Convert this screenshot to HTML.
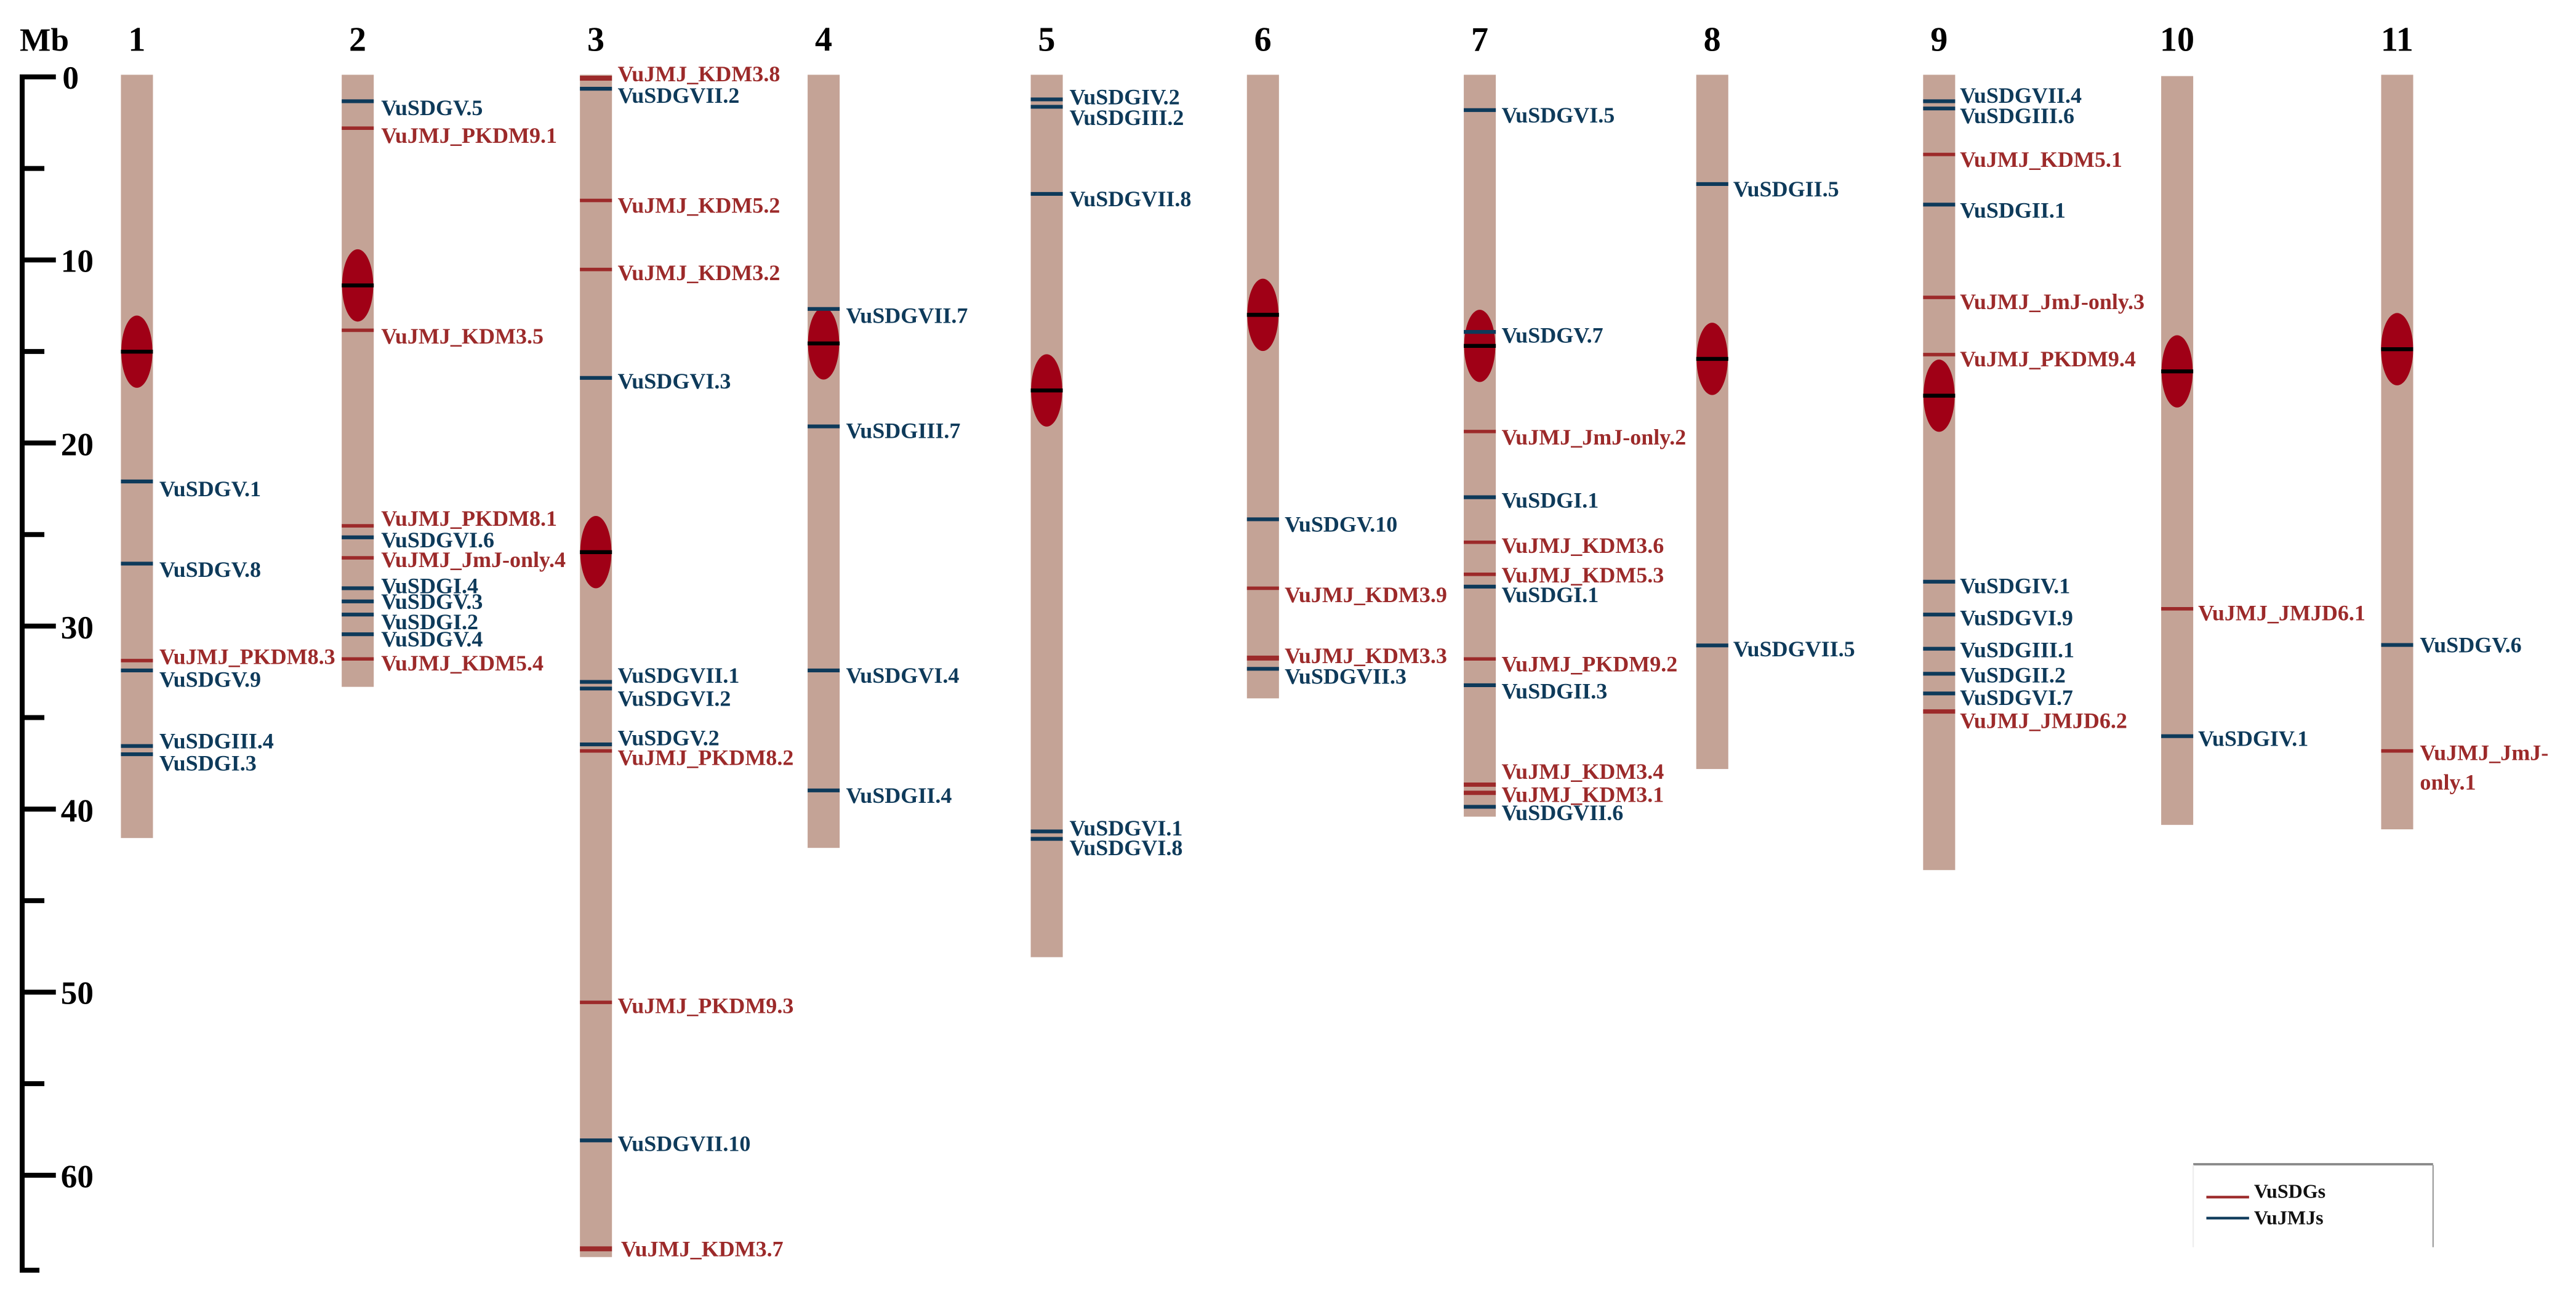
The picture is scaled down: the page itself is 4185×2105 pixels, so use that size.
<!DOCTYPE html>
<html><head><meta charset="utf-8"><style>
html,body{margin:0;padding:0;background:#fff;}
svg{display:block;}
text{font-family:"Liberation Serif",serif;font-weight:bold;}
.b{fill:#0e3a5a;font-size:13.5px;}
.r{fill:#9c2a2a;font-size:13.5px;}
.n{fill:#000;font-size:21px;}
.lb{stroke:#0e3a5a;stroke-width:2.3;}
.lr{stroke:#9c2a2a;stroke-width:2.1;}
.c{fill:#c4a396;}
.e{fill:#a00016;}
.k{stroke:#000;stroke-width:2.4;}
</style></head><body>
<svg width="4185" height="2105" viewBox="0 0 1568 788.7" preserveAspectRatio="none" xmlns="http://www.w3.org/2000/svg">
<!-- axis -->
<g stroke="#000" stroke-width="3" fill="none">
<path d="M34 46.8 H13.5 V773 H24"/>
<path d="M13.5 158.2H34 M13.5 269.6H34 M13.5 381H34 M13.5 492.4H34 M13.5 603.8H34 M13.5 715.2H34"/>
<path d="M13.5 102.5H27 M13.5 213.9H27 M13.5 325.3H27 M13.5 436.7H27 M13.5 548.1H27 M13.5 659.5H27"/>
</g>
<g class="n" style="font-size:20px">
<text x="12" y="31">Mb</text>
<text x="38" y="54">0</text>
<text x="37" y="165.5">10</text>
<text x="37" y="277">20</text>
<text x="37" y="388.5">30</text>
<text x="37" y="500">40</text>
<text x="37" y="611">50</text>
<text x="37" y="722.5">60</text>
</g>
<g class="n" text-anchor="middle">
<text x="83.3" y="31">1</text><text x="217.7" y="31">2</text><text x="362.7" y="31">3</text><text x="501.3" y="31">4</text>
<text x="637.1" y="31">5</text><text x="768.7" y="31">6</text><text x="900.7" y="31">7</text><text x="1042.2" y="31">8</text>
<text x="1180.3" y="31">9</text><text x="1325.2" y="31">10</text><text x="1459.1" y="31">11</text>
</g>
<!-- chromosomes -->
<rect class="c" x="73.6" y="45.5" width="19.5" height="464.5"/>
<rect class="c" x="208" y="45.5" width="19.5" height="372.5"/>
<rect class="c" x="353" y="45.5" width="19.5" height="719.5"/>
<rect class="c" x="491.6" y="45.5" width="19.5" height="470.5"/>
<rect class="c" x="627.4" y="45.5" width="19.5" height="537"/>
<rect class="c" x="759" y="45.5" width="19.5" height="379.5"/>
<rect class="c" x="891" y="45.5" width="19.5" height="451.5"/>
<rect class="c" x="1032.5" y="45.5" width="19.5" height="422.5"/>
<rect class="c" x="1170.6" y="45.5" width="19.5" height="484"/>
<rect class="c" x="1315.5" y="46.3" width="19.5" height="455.7"/>
<rect class="c" x="1449.4" y="45.5" width="19.5" height="459.2"/>
<!-- centromeres -->
<g>
<ellipse class="e" cx="83.3" cy="214" rx="9.5" ry="22"/><line class="k" x1="73.6" x2="93.1" y1="214" y2="214"/>
<ellipse class="e" cx="217.7" cy="173.7" rx="9.5" ry="22"/><line class="k" x1="208" x2="227.5" y1="173.7" y2="173.7"/>
<ellipse class="e" cx="362.7" cy="336" rx="9.5" ry="22"/><line class="k" x1="353" x2="372.5" y1="336" y2="336"/>
<ellipse class="e" cx="501.3" cy="209" rx="9.5" ry="22"/><line class="k" x1="491.6" x2="511.1" y1="209" y2="209"/>
<ellipse class="e" cx="637.1" cy="237.6" rx="9.5" ry="22"/><line class="k" x1="627.4" x2="646.9" y1="237.6" y2="237.6"/>
<ellipse class="e" cx="768.7" cy="191.6" rx="9.5" ry="22"/><line class="k" x1="759" x2="778.5" y1="191.6" y2="191.6"/>
<ellipse class="e" cx="900.7" cy="210.5" rx="9.5" ry="22"/><line class="k" x1="891" x2="910.5" y1="210.5" y2="210.5"/>
<ellipse class="e" cx="1042.2" cy="218.4" rx="9.5" ry="22"/><line class="k" x1="1032.5" x2="1052" y1="218.4" y2="218.4"/>
<ellipse class="e" cx="1180.3" cy="240.8" rx="9.5" ry="22"/><line class="k" x1="1170.6" x2="1190.1" y1="240.8" y2="240.8"/>
<ellipse class="e" cx="1325.2" cy="226" rx="9.5" ry="22"/><line class="k" x1="1315.5" x2="1335" y1="226" y2="226"/>
<ellipse class="e" cx="1459.1" cy="212.5" rx="9.8" ry="22"/><line class="k" x1="1449.4" x2="1468.9" y1="212.5" y2="212.5"/>
</g>
<!-- chr1 -->
<line class="lb" x1="73.6" x2="93.1" y1="293" y2="293"/><text class="b" x="97" y="302">VuSDGV.1</text>
<line class="lb" x1="73.6" x2="93.1" y1="343" y2="343"/><text class="b" x="97" y="351">VuSDGV.8</text>
<line class="lr" x1="73.6" x2="93.1" y1="402" y2="402"/><text class="r" x="97" y="404">VuJMJ_PKDM8.3</text>
<line class="lb" x1="73.6" x2="93.1" y1="408" y2="408"/><text class="b" x="97" y="418">VuSDGV.9</text>
<line class="lb" x1="73.6" x2="93.1" y1="454" y2="454"/><text class="b" x="97" y="455.5">VuSDGIII.4</text>
<line class="lb" x1="73.6" x2="93.1" y1="459" y2="459"/><text class="b" x="97" y="469">VuSDGI.3</text>
<!-- chr2 -->
<line class="lb" x1="208" x2="227.5" y1="61.6" y2="61.6"/><text class="b" x="232" y="70">VuSDGV.5</text>
<line class="lr" x1="208" x2="227.5" y1="78" y2="78"/><text class="r" x="232" y="87">VuJMJ_PKDM9.1</text>
<line class="lr" x1="208" x2="227.5" y1="201" y2="201"/><text class="r" x="232" y="209">VuJMJ_KDM3.5</text>
<line class="lr" x1="208" x2="227.5" y1="320" y2="320"/><text class="r" x="232" y="320">VuJMJ_PKDM8.1</text>
<line class="lb" x1="208" x2="227.5" y1="327" y2="327"/><text class="b" x="232" y="333">VuSDGVI.6</text>
<line class="lr" x1="208" x2="227.5" y1="339.5" y2="339.5"/><text class="r" x="232" y="345">VuJMJ_JmJ-only.4</text>
<line class="lb" x1="208" x2="227.5" y1="358" y2="358"/><text class="b" x="232" y="361">VuSDGI.4</text>
<line class="lb" x1="208" x2="227.5" y1="366" y2="366"/><text class="b" x="232" y="370.5">VuSDGV.3</text>
<line class="lb" x1="208" x2="227.5" y1="374" y2="374"/><text class="b" x="232" y="383">VuSDGI.2</text>
<line class="lb" x1="208" x2="227.5" y1="386" y2="386"/><text class="b" x="232" y="393.5">VuSDGV.4</text>
<line class="lr" x1="208" x2="227.5" y1="401" y2="401"/><text class="r" x="232" y="408">VuJMJ_KDM5.4</text>
<!-- chr3 -->
<line class="lr" x1="353" x2="372.5" y1="47.6" y2="47.6" style="stroke-width:3"/><text class="r" x="376" y="49.5">VuJMJ_KDM3.8</text>
<line class="lb" x1="353" x2="372.5" y1="54" y2="54"/><text class="b" x="376" y="62.5">VuSDGVII.2</text>
<line class="lr" x1="353" x2="372.5" y1="122" y2="122"/><text class="r" x="376" y="129.5">VuJMJ_KDM5.2</text>
<line class="lr" x1="353" x2="372.5" y1="164" y2="164"/><text class="r" x="376" y="170.5">VuJMJ_KDM3.2</text>
<line class="lb" x1="353" x2="372.5" y1="230" y2="230"/><text class="b" x="376" y="236.5">VuSDGVI.3</text>
<line class="lb" x1="353" x2="372.5" y1="415" y2="415"/><text class="b" x="376" y="415.5">VuSDGVII.1</text>
<line class="lb" x1="353" x2="372.5" y1="419" y2="419"/><text class="b" x="376" y="429.5">VuSDGVI.2</text>
<line class="lb" x1="353" x2="372.5" y1="453" y2="453"/><text class="b" x="376" y="453.5">VuSDGV.2</text>
<line class="lr" x1="353" x2="372.5" y1="457" y2="457"/><text class="r" x="376" y="465.5">VuJMJ_PKDM8.2</text>
<line class="lr" x1="353" x2="372.5" y1="610" y2="610"/><text class="r" x="376" y="616.5">VuJMJ_PKDM9.3</text>
<line class="lb" x1="353" x2="372.5" y1="694" y2="694"/><text class="b" x="376" y="700.5">VuSDGVII.10</text>
<line class="lr" x1="353" x2="372.5" y1="760" y2="760" style="stroke-width:3"/><text class="r" x="378" y="764.5">VuJMJ_KDM3.7</text>
<!-- chr4 -->
<line class="lb" x1="491.6" x2="511.1" y1="188" y2="188"/><text class="b" x="515" y="196.5">VuSDGVII.7</text>
<line class="lb" x1="491.6" x2="511.1" y1="259.5" y2="259.5"/><text class="b" x="515" y="266.5">VuSDGIII.7</text>
<line class="lb" x1="491.6" x2="511.1" y1="408" y2="408"/><text class="b" x="515" y="415.5">VuSDGVI.4</text>
<line class="lb" x1="491.6" x2="511.1" y1="481" y2="481"/><text class="b" x="515" y="488.5">VuSDGII.4</text>
<!-- chr5 -->
<line class="lb" x1="627.4" x2="646.9" y1="60.5" y2="60.5"/><text class="b" x="651" y="63.5">VuSDGIV.2</text>
<line class="lb" x1="627.4" x2="646.9" y1="65" y2="65"/><text class="b" x="651" y="76">VuSDGIII.2</text>
<line class="lb" x1="627.4" x2="646.9" y1="118" y2="118"/><text class="b" x="651" y="125.5">VuSDGVII.8</text>
<line class="lb" x1="627.4" x2="646.9" y1="506" y2="506"/><text class="b" x="651" y="508.5">VuSDGVI.1</text>
<line class="lb" x1="627.4" x2="646.9" y1="510.5" y2="510.5"/><text class="b" x="651" y="520.5">VuSDGVI.8</text>
<!-- chr6 -->
<line class="lb" x1="759" x2="778.5" y1="316" y2="316"/><text class="b" x="782" y="323.5">VuSDGV.10</text>
<line class="lr" x1="759" x2="778.5" y1="358" y2="358"/><text class="r" x="782" y="366.5">VuJMJ_KDM3.9</text>
<line class="lr" x1="759" x2="778.5" y1="400.5" y2="400.5" style="stroke-width:3"/><text class="r" x="782" y="403.5">VuJMJ_KDM3.3</text>
<line class="lb" x1="759" x2="778.5" y1="407" y2="407"/><text class="b" x="782" y="416">VuSDGVII.3</text>
<!-- chr7 -->
<line class="lb" x1="891" x2="910.5" y1="67" y2="67"/><text class="b" x="914" y="74.5">VuSDGVI.5</text>
<line class="lb" x1="891" x2="910.5" y1="202" y2="202"/><text class="b" x="914" y="208.5">VuSDGV.7</text>
<line class="lr" x1="891" x2="910.5" y1="262.6" y2="262.6"/><text class="r" x="914" y="270.5">VuJMJ_JmJ-only.2</text>
<line class="lb" x1="891" x2="910.5" y1="302.6" y2="302.6"/><text class="b" x="914" y="309">VuSDGI.1</text>
<line class="lr" x1="891" x2="910.5" y1="330" y2="330"/><text class="r" x="914" y="336.5">VuJMJ_KDM3.6</text>
<line class="lr" x1="891" x2="910.5" y1="349.5" y2="349.5"/><text class="r" x="914" y="354.5">VuJMJ_KDM5.3</text>
<line class="lb" x1="891" x2="910.5" y1="357" y2="357"/><text class="b" x="914" y="366.5">VuSDGI.1</text>
<line class="lr" x1="891" x2="910.5" y1="401" y2="401"/><text class="r" x="914" y="408.5">VuJMJ_PKDM9.2</text>
<line class="lb" x1="891" x2="910.5" y1="417" y2="417"/><text class="b" x="914" y="425">VuSDGII.3</text>
<line class="lr" x1="891" x2="910.5" y1="477.5" y2="477.5" style="stroke-width:2.6"/><text class="r" x="914" y="474">VuJMJ_KDM3.4</text>
<line class="lr" x1="891" x2="910.5" y1="482.5" y2="482.5" style="stroke-width:2.6"/><text class="r" x="914" y="488">VuJMJ_KDM3.1</text>
<line class="lb" x1="891" x2="910.5" y1="491" y2="491"/><text class="b" x="914" y="499">VuSDGVII.6</text>
<!-- chr8 -->
<line class="lb" x1="1032.5" x2="1052" y1="112" y2="112"/><text class="b" x="1055" y="119.5">VuSDGII.5</text>
<line class="lb" x1="1032.5" x2="1052" y1="392.8" y2="392.8"/><text class="b" x="1055" y="399.5">VuSDGVII.5</text>
<!-- chr9 -->
<line class="lb" x1="1170.6" x2="1190.1" y1="61.6" y2="61.6"/><text class="b" x="1193" y="62.5">VuSDGVII.4</text>
<line class="lb" x1="1170.6" x2="1190.1" y1="66" y2="66"/><text class="b" x="1193" y="75">VuSDGIII.6</text>
<line class="lr" x1="1170.6" x2="1190.1" y1="94" y2="94"/><text class="r" x="1193" y="101.5">VuJMJ_KDM5.1</text>
<line class="lb" x1="1170.6" x2="1190.1" y1="124.5" y2="124.5"/><text class="b" x="1193" y="132.5">VuSDGII.1</text>
<line class="lr" x1="1170.6" x2="1190.1" y1="181" y2="181"/><text class="r" x="1193" y="188">VuJMJ_JmJ-only.3</text>
<line class="lr" x1="1170.6" x2="1190.1" y1="215.8" y2="215.8"/><text class="r" x="1193" y="223">VuJMJ_PKDM9.4</text>
<line class="lb" x1="1170.6" x2="1190.1" y1="354" y2="354"/><text class="b" x="1193" y="361">VuSDGIV.1</text>
<line class="lb" x1="1170.6" x2="1190.1" y1="374" y2="374"/><text class="b" x="1193" y="380.5">VuSDGVI.9</text>
<line class="lb" x1="1170.6" x2="1190.1" y1="394.8" y2="394.8"/><text class="b" x="1193" y="400">VuSDGIII.1</text>
<line class="lb" x1="1170.6" x2="1190.1" y1="410" y2="410"/><text class="b" x="1193" y="415.3">VuSDGII.2</text>
<line class="lb" x1="1170.6" x2="1190.1" y1="422" y2="422"/><text class="b" x="1193" y="429">VuSDGVI.7</text>
<line class="lr" x1="1170.6" x2="1190.1" y1="433" y2="433" style="stroke-width:2.6"/><text class="r" x="1193" y="443">VuJMJ_JMJD6.2</text>
<!-- chr10 -->
<line class="lr" x1="1315.5" x2="1335" y1="370.5" y2="370.5"/><text class="r" x="1338" y="377.5">VuJMJ_JMJD6.1</text>
<line class="lb" x1="1315.5" x2="1335" y1="448" y2="448"/><text class="b" x="1338" y="454">VuSDGIV.1</text>
<!-- chr11 -->
<line class="lb" x1="1449.4" x2="1468.9" y1="392.5" y2="392.5"/><text class="b" x="1473" y="397">VuSDGV.6</text>
<line class="lr" x1="1449.4" x2="1468.9" y1="457" y2="457"/><text class="r" x="1473" y="462.5">VuJMJ_JmJ-</text><text class="r" x="1473" y="480.5">only.1</text>
<!-- legend -->
<line x1="1335" x2="1481" y1="708.5" y2="708.5" stroke="#888" stroke-width="1.4"/>
<line x1="1335" x2="1335" y1="709" y2="759" stroke="#eee" stroke-width="0.8"/>
<line x1="1481" x2="1481" y1="709" y2="759" stroke="#999" stroke-width="0.8"/>
<line x1="1343" x2="1369" y1="728.5" y2="728.5" stroke="#9c2a2a" stroke-width="1.6"/>
<line x1="1343" x2="1369" y1="741.3" y2="741.3" stroke="#0e3a5a" stroke-width="1.6"/>
<text x="1372" y="729" style="font-size:12px;fill:#111">VuSDGs</text>
<text x="1372" y="745" style="font-size:12px;fill:#111">VuJMJs</text>
</svg>
</body></html>
